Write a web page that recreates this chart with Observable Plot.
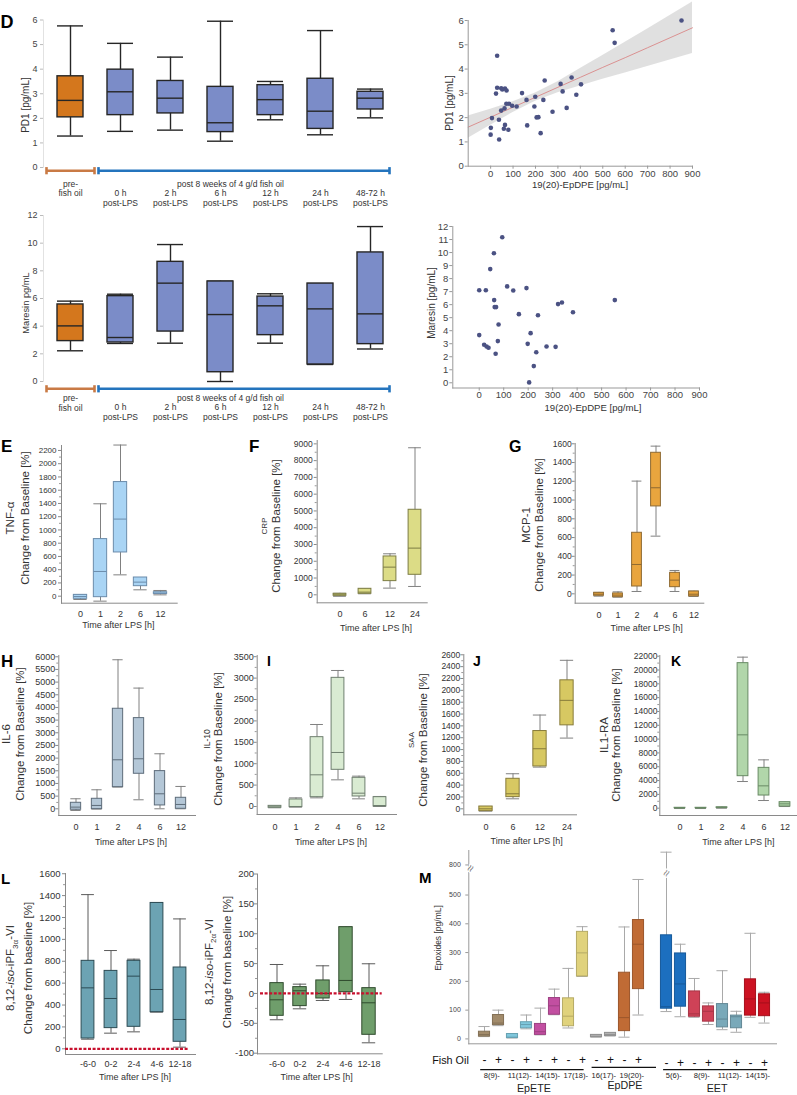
<!DOCTYPE html>
<html><head><meta charset="utf-8">
<script src="https://cdn.jsdelivr.net/npm/d3@7"></script>
<script src="https://cdn.jsdelivr.net/npm/@observablehq/plot@0.6"></script>
<style>
body{margin:0;background:#fff;}
#fig{position:relative;width:797px;height:1095px;overflow:hidden;font-family:"Liberation Sans",Arial,Helvetica,sans-serif;color:#222;background:#fff;}
#fig svg{position:absolute;left:0;top:0;}
.lbl{position:absolute;white-space:nowrap;line-height:1;text-align:center;color:#333;}
.let{position:absolute;font-weight:bold;line-height:1;color:#000;}
</style></head><body><div id="fig"></div>
<script>
// ================= DATA =================
// Panel D box plots
const dCats = ["pre", "0 h", "2 h", "6 h", "12 h", "24 h", "48-72 h"];
const dTickLabels = ["pre-\nfish oil", "0 h\npost-LPS", "2 h\npost-LPS", "6 h\npost-LPS", "12 h\npost-LPS", "24 h\npost-LPS", "48-72 h\npost-LPS"];
const dFills = ["#d4771d", "#7b8cc8", "#7b8cc8", "#7b8cc8", "#7b8cc8", "#7b8cc8", "#7b8cc8"];
const dPeriodNames = ["pre", "post 8 weeks of 4 g/d fish oil"];
const dPeriodFrom = ["pre", "0 h"];
const dPeriodTo = ["pre", "48-72 h"];
const dPeriodColors = ["#c97a45", "#2474bd"];
// stats rows: [min, q1, median, q3, max]
const pd1Stats = [[1.28,2.04,2.73,3.71,5.76],[1.47,2.13,3.08,3.98,5.05],[1.52,2.20,2.82,3.52,4.49],[1.07,1.44,1.82,3.28,5.95],[1.94,2.13,2.76,3.35,3.50],[1.33,1.57,2.29,3.61,5.57],[2.02,2.36,2.82,3.08,3.19]];
const maresinStats = [[2.22,2.92,4.02,5.57,5.81],[2.75,2.82,3.18,6.17,6.31],[2.77,3.61,7.11,8.65,9.90],[0,0.67,4.84,7.23,7.25],[2.77,3.35,5.47,6.14,6.34],[1.23,1.23,5.25,7.08,7.08],[2.35,2.70,4.89,9.33,11.2]];

// Panel D scatter: PD1 vs 19(20)-EpDPE
const pd1EpdpeX = [851,544,553,29,361,241,312,403,29,47,64,52,71,321,24,140,382,199,160,235,70,82,96,116,195,62,339,47,276,213,205,6,37,64,163,1,59,79,223,0,38];
const pd1Y = [6.00,5.60,5.08,4.55,3.65,3.53,3.39,3.37,3.23,3.21,3.20,3.16,3.12,3.08,2.99,3.01,2.94,2.86,2.73,2.73,2.57,2.57,2.49,2.46,2.46,2.38,2.40,2.29,2.24,2.02,2.01,1.98,1.91,1.70,1.68,1.58,1.54,1.50,1.36,1.30,1.10];
// regression line and confidence band
const fitX = [-100,0,100,200,300,400,500,600,700,800,900];
const fitY = [1.61,2.02,2.43,2.84,3.25,3.66,4.07,4.47,4.88,5.29,5.70];
const fitLo = [1.15,1.69,2.21,2.67,3.02,3.30,3.58,3.84,4.11,4.37,4.64];
const fitHi = [2.07,2.35,2.65,3.01,3.48,4.02,4.56,5.10,5.65,6.21,6.76];

// Panel D scatter: Maresin vs 19(20)-EpDPE
const marEpdpeX = [94,60,45,114,0,27,139,193,61,554,338,322,63,69,383,162,240,79,210,0,76,198,20,30,38,275,312,233,67,223,204];
const maresinY = [11.18,9.95,8.73,7.40,7.11,7.11,7.09,7.27,6.35,6.35,6.17,6.04,5.81,5.81,5.42,5.27,5.19,4.48,3.81,3.66,3.20,2.99,2.92,2.79,2.69,2.79,2.76,2.35,2.23,1.28,0.03];

// Panels E-K (change from baseline, %)
const tnfCats = ["0","1","2","6","12"];
const tnfStats = [[-50,-40,-5,20,25],[-75,-15,373,862,1395],[322,660,1164,1723,2282],[96,151,212,282,282],[20,35,45,60,86]];
const crpCats = ["0","6","12","24"];
const crpStats = [[-90,-60,0,60,90],[60,60,159,358,358],[398,815,1650,2286,2445],[497,1193,2783,5070,8767]];
const mcpCats = ["0","1","2","4","6","12"];
const mcpStats = [[-25,-21,-4,11,15],[-36,-36,-14,4,21],[25,78,313,651,1202],[615,932,1131,1504,1575],[25,71,146,224,249],[-28,-28,-4,25,28]];
const il6Cats = ["0","1","2","4","6","12"];
const il6Stats = [[-66,-39,66,237,395],[-13,-13,132,395,750],[855,855,1934,3948,5882],[355,1382,1974,3579,4764],[0,132,592,1487,2171],[0,0,171,434,882]];
const il10Cats = ["0","1","2","4","6","12"];
const il10Stats = [[-30,-30,-8,15,15],[-15,-15,0,164,202],[202,218,740,1620,1916],[623,857,1262,3006,3178],[179,234,311,670,709],[0,0,23,218,234]];
const saaCats = ["0","6","12","24"];
const saaStats = [[-39,-39,0,39,39],[169,197,254,507,592],[704,715,1014,1313,1583],[1194,1409,1831,2169,2507]];
const il1raCats = ["0","1","2","4","6","12"];
const il1raStats = [[-50,0,30,60,80],[-50,0,30,60,80],[0,30,80,130,170],[3861,4633,10617,20993,21862],[1110,1834,3233,5839,6998],[241,241,627,869,869]];

// Panel L (isoprostanes)
const isoCats = ["-6-0","0-2","2-4","4-6","12-18"];
const pf3Stats = [[88,94,557,804,1409],[143,189,460,712,898],[155,201,664,804,819],[335,335,542,1333,1333],[15,64,268,743,1187]];
const pf2Stats = [[-44,-37.4,-10.6,17.3,48.5],[-25.7,-21.2,4.5,10.6,15.6],[-11.7,-8.4,0,21.8,46.3],[-10,2.2,21.8,111,111],[-82.6,-69.2,-15.6,8.9,49.7]];

// Panel M (epoxides, pg/mL)
const mGroups = ["EpETE","EpETE","EpETE","EpETE","EpDPE","EpDPE","EET","EET","EET","EET"];
const mNames = ["8(9)-","11(12)-","14(15)-","17(18)-","16(17)-","19(20)-","5(6)-","8(9)-","11(12)-","14(15)-"];
const mColors = ["#a28b6b","#7fc7dc","#c24fa1","#e0d27c","#b2b2b2","#c06b35","#1c6fbf","#cf4257","#79a9b9","#cc1222"];
const mFishOil = ["-","+"];
const mStats = [
  [8,8,15,25,43],[46,48,55,83,100],
  [3,3,6,17,17],[35,37,50,58,83],
  [14,14,25,52,107],[84,84,115,142,173],
  [38,44,79,141,245],[217,217,299,372,390],
  [6,6,9,14,15],[10,10,15,21,21],
  [6,27,74,230,389],[83,173,329,413,554],
  [95,105,112,360,846],[77,112,191,297,329],
  [75,77,87,165,210],[50,60,96,113,125],
  [32,40,69,121,237],[23,37,77,81,96],
  [75,81,139,207,367],[55,79,125,155,162]
];
const mYTicks = [0,100,200,300,400,500,800];
const mBreakValue = 680;

// ================= HELPERS =================
const W = 797, H = 1095;
const FONT = '"Liberation Sans", Arial, Helvetica, sans-serif';
const fig = document.getElementById("fig");
const baseStyle = {background: "transparent", fontFamily: FONT, overflow: "visible", color: "#333"};
const plain = d => String(d);

function frameOpts(L, T, R, B) {
  return {width: W, height: H, marginLeft: L, marginTop: T, marginRight: W - R, marginBottom: H - B, style: baseStyle};
}
function toRows(cats, stats, extra) {
  return cats.map((c, i) => Object.assign({cat: c, min: stats[i][0], q1: stats[i][1], med: stats[i][2], q3: stats[i][3], max: stats[i][4]}, extra ? extra(i) : {}));
}
function boxMarks(rows, o) {
  const cap = o.capInset ?? o.inset;
  const wsw = o.wsw ?? 1, sw = o.sw ?? 1;
  return [
    Plot.ruleX(rows, {x: "cat", y1: "min", y2: "max", stroke: o.whisker, strokeWidth: wsw}),
    Plot.tickY(rows, {x: "cat", y: "min", stroke: o.whisker, strokeWidth: wsw, insetLeft: cap, insetRight: cap}),
    Plot.tickY(rows, {x: "cat", y: "max", stroke: o.whisker, strokeWidth: wsw, insetLeft: cap, insetRight: cap}),
    Plot.barY(rows, {x: "cat", y1: "q1", y2: "q3", fill: o.fill, stroke: o.stroke, strokeWidth: sw, insetLeft: o.inset, insetRight: o.inset}),
    Plot.tickY(rows, {x: "cat", y: "med", stroke: o.medStroke ?? o.stroke, strokeWidth: sw, insetLeft: o.inset, insetRight: o.inset})
  ];
}
function add(svg) { fig.appendChild(svg); }
const vbar = {draw(ctx, size) { const r = Math.sqrt(size / Math.PI); ctx.moveTo(0, -r); ctx.lineTo(0, r); }};

// ================= PANEL D: box plots =================
function dPanel(p) {
  const rows = toRows(dCats, p.stats, i => ({label: dTickLabels[i], fill: dFills[i]}));
  const step = (p.xr[1] - p.xr[0]) / dCats.length;
  const brackets = dPeriodNames.map((n, i) => ({name: n, from: dPeriodFrom[i], to: dPeriodTo[i], color: dPeriodColors[i]}));
  const bIns = [[1, 1], [3, 6]];
  const bracketMarks = brackets.flatMap((b, i) => [
    Plot.ruleY([b], {x1: "from", x2: "to", y: () => 0, dy: p.bdy, stroke: "color", strokeWidth: 2.6, insetLeft: bIns[i][0], insetRight: bIns[i][1]}),
    Plot.dot([b], {x: "from", y: () => 0, dy: p.bdy, dx: -(step / 2 - bIns[i][0]), symbol: vbar, r: 3.6, fill: "none", stroke: "color", strokeWidth: 2.6}),
    Plot.dot([b], {x: "to", y: () => 0, dy: p.bdy, dx: (step / 2 - bIns[i][1]), symbol: vbar, r: 3.6, fill: "none", stroke: "color", strokeWidth: 2.6})
  ]);
  add(Plot.plot({
    ...frameOpts(43, p.T, 395, p.B),
    x: {type: "band", domain: dCats, range: p.xr, padding: 0, axis: null},
    y: {domain: p.yd, axis: null},
    color: {type: "identity"},
    marks: [
      Plot.frame({anchor: "left", stroke: "#e2e2e2"}),
      Plot.axisY({ticks: p.ticks, tickFormat: plain, tickSize: 3, tickPadding: 3, fontSize: 9, stroke: "#bbb", fill: "#444", label: null}),
      ...boxMarks(rows, {fill: "fill", stroke: "#262626", whisker: "#262626", inset: 12, sw: 1.4, wsw: 1.4}),
      ...bracketMarks,
      Plot.text(rows.slice(0, 1), {x: "cat", text: "label", frameAnchor: "bottom", lineAnchor: "middle", dy: p.preDy, fontSize: 8.5, lineHeight: 1.12, fill: "#333"}),
      Plot.text(rows.slice(1), {x: "cat", text: "label", frameAnchor: "bottom", lineAnchor: "middle", dy: p.postDy, fontSize: 8.5, lineHeight: 1.15, fill: "#333"}),
      Plot.text(brackets.slice(1), {x: () => "6 h", text: "name", dx: 10, frameAnchor: "bottom", lineAnchor: "middle", dy: p.titleDy, fontSize: 8.5, fill: "#333"})
    ]
  }));
}
dPanel({stats: pd1Stats, T: 19.5, B: 167, xr: [45, 395], yd: [0, 6], ticks: d3.range(0, 7), bdy: 3.2, preDy: 21, postDy: 30.7, titleDy: 16.3});
dPanel({stats: maresinStats, T: 215, B: 381, xr: [45, 395], yd: [0, 12], ticks: d3.range(0, 13, 2), bdy: 7.3, preDy: 21.2, postDy: 30.7, titleDy: 16.7});

// ================= PANEL D: scatter plots =================
function scatter(p) {
  add(Plot.plot({
    ...frameOpts(p.L, p.T, p.R, p.B),
    x: {domain: p.xd, axis: null},
    y: {domain: p.yd, axis: null},
    marks: [
      ...(p.band ? [
        Plot.areaY(p.band, {x: "x", y1: "lo", y2: "hi", fill: "#d6d6d6", fillOpacity: 0.75}),
        Plot.lineY(p.band, {x: "x", y: "fit", stroke: "#d98888", strokeWidth: 0.9})
      ] : []),
      Plot.frame({anchor: "left", stroke: "#999"}),
      Plot.frame({anchor: "bottom", stroke: "#999"}),
      Plot.axisY({ticks: p.yticks, tickFormat: plain, tickSize: 3, tickPadding: 1.5, fontSize: 9.5, stroke: "#999", fill: "#444", label: null}),
      Plot.axisX({ticks: d3.range(0, 901, 100), tickFormat: plain, tickSize: 3, tickPadding: p.xpad, fontSize: 9.5, stroke: "#999", fill: "#444", label: null}),
      Plot.dot(p.pts, {x: "x", y: "y", r: 2.3, fill: "#4b5283", stroke: "none"})
    ]
  }));
}
scatter({
  L: 467.7, T: 20, R: 692, B: 165.7, xd: [-100, 900], yd: [0, 6], yticks: d3.range(0, 7), xpad: 1,
  pts: pd1EpdpeX.map((x, i) => ({x, y: pd1Y[i]})),
  band: fitX.map((x, i) => ({x, fit: fitY[i], lo: fitLo[i], hi: fitHi[i]}))
});
scatter({
  L: 452.3, T: 226, R: 699, B: 387.5, xd: [-108, 900], yd: [-0.4, 12], yticks: d3.range(0, 13), xpad: 0.5,
  pts: marEpdpeX.map((x, i) => ({x, y: maresinY[i]}))
});

// ================= PANELS E-L =================
function cytoPanel(p) {
  const rows = toRows(p.cats, p.stats);
  add(Plot.plot({
    ...frameOpts(p.L, p.T, p.R, p.B),
    x: {type: "band", domain: p.cats, range: p.xr, padding: 0, axis: null},
    y: {domain: p.yd, axis: null},
    marks: [
      Plot.frame({anchor: "left", stroke: "#8a8a8a"}),
      Plot.frame({anchor: "bottom", stroke: "#8a8a8a"}),
      Plot.axisY({ticks: p.minor, tickSize: 2, tickFormat: () => "", stroke: "#999", label: null}),
      Plot.axisY({ticks: p.major, tickFormat: plain, tickSize: p.tsize ?? 3, tickPadding: p.pad, fontSize: p.yfs, stroke: "#888", fill: "#333", label: null}),
      Plot.axisX({tickSize: 0, tickPadding: p.xpad, fontSize: 9, fill: "#333", label: null}),
      ...boxMarks(rows, {fill: p.fill, stroke: p.stroke, whisker: p.whisker ?? "#808080", inset: p.inset}),
      ...(p.zero ? [Plot.ruleY([0], {stroke: "#c8102e", strokeWidth: 2.3, strokeDasharray: "3,1.6", insetLeft: p.zero[0], insetRight: p.zero[1]})] : [])
    ]
  }));
}
cytoPanel({cats: tnfCats, stats: tnfStats, L: 61, T: 445, R: 176.7, B: 602.7, xr: [68.5, 170.5], yd: [-106, 2275], major: d3.range(0, 2201, 200), minor: d3.range(100, 2201, 200), pad: 2, yfs: 8, xpad: 7.4, inset: 3.35, fill: "#a9d4f4", stroke: "#6b8cab"});
cytoPanel({cats: crpCats, stats: crpStats, L: 316.7, T: 440, R: 426.7, B: 602.3, xr: [326.4, 427.2], yd: [-477, 9200], major: d3.range(0, 9001, 1000), minor: d3.range(500, 9001, 1000), pad: 1.5, yfs: 8.5, xpad: 7.8, inset: 6.1, fill: "#dcdc86", stroke: "#7c7c44"});
cytoPanel({cats: mcpCats, stats: mcpStats, L: 574.7, T: 443, R: 703.3, B: 602.7, xr: [587.2, 704.5], yd: [-100, 1603], major: d3.range(0, 1601, 200), minor: d3.range(100, 1601, 200), pad: 0.5, yfs: 8.5, xpad: 8.1, inset: 4.6, fill: "#e9a53e", stroke: "#8e6a33"});
cytoPanel({cats: il6Cats, stats: il6Stats, L: 58.3, T: 655, R: 195, B: 815, xr: [64, 192.4], yd: [-265, 6050], major: d3.range(0, 6001, 500), minor: d3.range(250, 6001, 500), pad: 0.5, yfs: 9, xpad: 8.5, inset: 5.35, fill: "#b4c7d7", stroke: "#5d6c7a"});
cytoPanel({cats: il10Cats, stats: il10Stats, L: 256.7, T: 655, R: 396, B: 814, xr: [263, 390.6], yd: [-187, 3528], major: d3.range(0, 3501, 500), minor: d3.range(250, 3501, 500), pad: 0.5, yfs: 9, xpad: 9.5, inset: 4.1, fill: "#d9ebd2", stroke: "#6f7f6f"});
cytoPanel({cats: saaCats, stats: saaStats, L: 463.3, T: 654, R: 576, B: 814.3, xr: [471.5, 579.5], yd: [-101, 2605], major: d3.range(0, 2601, 200), minor: d3.range(100, 2601, 200), pad: 0.5, yfs: 8.5, xpad: 9.2, inset: 6.85, fill: "#d7c862", stroke: "#877b3a"});
cytoPanel({cats: il1raCats, stats: il1raStats, L: 659.3, T: 655, R: 796, B: 815, xr: [668, 795.5], yd: [-1057, 22100], major: d3.range(0, 22001, 2000), minor: d3.range(1000, 22001, 2000), pad: 0.3, tsize: 2, yfs: 8.5, xpad: 8.5, inset: 5.1, fill: "#b1d6aa", stroke: "#688a64"});
cytoPanel({cats: isoCats, stats: pf3Stats, L: 65, T: 873, R: 195, B: 1054, xr: [75.7, 191.9], yd: [-52, 1602], major: d3.range(0, 1601, 200), minor: d3.range(100, 1601, 200), pad: 2, yfs: 9.5, xpad: 6.1, inset: 5.1, fill: "#6ca3b3", stroke: "#2c4b54", whisker: "#5a5a5a", zero: [0, 7]});
cytoPanel({cats: isoCats, stats: pf2Stats, L: 257, T: 873.5, R: 381.7, B: 1053.3, xr: [263.2, 381.2], yd: [-101, 200], major: d3.range(-100, 201, 50), minor: d3.range(-75, 201, 50), pad: 0.5, yfs: 9.5, xpad: 6.8, inset: 4.8, fill: "#6f9e6b", stroke: "#2f4a2d", whisker: "#5a5a5a", zero: [3, 0]});

// ================= PANEL M =================
(function () {
  const slots = [], rows = [];
  mNames.forEach((n, i) => {
    if (i > 0 && mGroups[i] === "EET" && mGroups[i - 1] !== "EET") slots.push("gap");
    mFishOil.forEach((s, j) => {
      const slot = `${mGroups[i]} ${n} ${s}`;
      slots.push(slot);
      const st = mStats[i * 2 + j];
      rows.push({cat: slot, group: mGroups[i], name: n, sign: s, color: mColors[i], dark: d3.color(mColors[i]).darker(0.6).formatHex(), min: st[0], q1: st[1], med: st[2], q3: st[3], max: st[4]});
    });
  });
  const xr = [472.8, 775.5];
  const step = (xr[1] - xr[0]) / slots.length;
  const groups = Array.from(new Set(mGroups));
  const lineIns = {EpETE: [3.2, 5.4], EpDPE: [2.6, -11], EET: [4.1, 3.8]};
  const lineDy = {EpETE: 30.7, EpDPE: 28.4, EET: 30.7};
  const labDy = {EpETE: 50, EpDPE: 46.7, EET: 50};
  const groupMarks = groups.flatMap(g => {
    const gr = rows.filter(r => r.group === g);
    const first = gr[0].cat, last = gr[gr.length - 1].cat;
    const [il, ir] = lineIns[g];
    const n = gr.length;
    const center = (n * step - il - ir) / 2 + il - step / 2;
    return [
      Plot.ruleY([{first, last}], {x1: "first", x2: "last", y: () => 0, dy: lineDy[g], stroke: "#111", strokeWidth: 1.3, insetLeft: il, insetRight: ir}),
      Plot.text([{first, g}], {x: "first", text: "g", dx: center, y: () => 0, dy: labDy[g], lineAnchor: "middle", fontSize: 10.7, fill: "#222"})
    ];
  });
  add(Plot.plot({
    ...frameOpts(468.3, 850, 776, 1043.3),
    x: {type: "band", domain: slots, range: xr, padding: 0, axis: null},
    y: {type: "linear", domain: [-17, 580, 780, 852], range: [1043.3, 871.5, 870, 850], axis: null},
    color: {type: "identity"},
    marks: [
      Plot.frame({anchor: "left", stroke: "#999"}),
      Plot.frame({anchor: "bottom", stroke: "#999"}),
      Plot.axisY({ticks: mYTicks, tickFormat: plain, tickSize: 3, tickPadding: 5, fontSize: 7, stroke: "#999", fill: "#444", label: null}),
      ...boxMarks(rows, {fill: "color", stroke: "dark", medStroke: "dark", whisker: "#a9a9a9", inset: 1.45}),
      Plot.text([mBreakValue], {frameAnchor: "left", y: d => d, text: () => "≈", rotate: -60, fontSize: 12, fill: "#777", stroke: "white", strokeWidth: 2.5, paintOrder: "stroke"}),
      Plot.text(rows.filter(r => r.max > mBreakValue), {x: "cat", y: () => mBreakValue, dy: 2, text: () => "≈", rotate: -60, fontSize: 12, fill: "#888", stroke: "white", strokeWidth: 2.5, paintOrder: "stroke"}),
      Plot.text(["Fish Oil"], {frameAnchor: "bottom-left", lineAnchor: "middle", dx: 0, dy: 16.7, text: d => d, textAnchor: "end", fontSize: 10.8, fill: "#111"}),
      Plot.text(rows.filter(r => r.group !== "EET"), {x: "cat", text: "sign", frameAnchor: "bottom", lineAnchor: "middle", dy: 16.7, fontSize: 12, fill: "#111"}),
      Plot.text(rows.filter(r => r.group === "EET"), {x: "cat", text: "sign", frameAnchor: "bottom", lineAnchor: "middle", dy: 19.4, fontSize: 12, fill: "#111"}),
      Plot.text(rows.filter(r => r.sign === "-"), {x: "cat", text: "name", dx: step / 2, frameAnchor: "bottom", lineAnchor: "middle", dy: 31.7, fontSize: 7.6, fill: "#222"}),
      ...groupMarks
    ]
  }));
})();

// ================= TEXT LABELS =================
function hl(html, cx, cy, fs, extra) {
  const d = document.createElement("div");
  d.className = "lbl";
  d.style.cssText = `left:${cx}px;top:${cy}px;font-size:${fs}px;transform:translate(-50%,-50%);${extra || ""}`;
  d.innerHTML = html;
  fig.appendChild(d);
}
function vl(lines, cx, cy) {
  const html = lines.map(([t, fs, lh]) => `<div style="font-size:${fs}px;line-height:${lh}px">${t}</div>`).join("");
  hl(html, cx, cy, 10, "transform:translate(-50%,-50%) rotate(-90deg);");
}
function letter(ch, x, baseline, fs) {
  const d = document.createElement("div");
  d.className = "let";
  d.style.cssText = `left:${x}px;top:${baseline - 0.8465 * fs}px;font-size:${fs}px;`;
  d.textContent = ch;
  fig.appendChild(d);
}
letter("D", 0.5, 28.3, 18); letter("E", 1, 452, 17); letter("F", 249, 452, 17); letter("G", 509, 452.3, 16);
letter("H", 1, 667.3, 17); letter("I", 267, 665.7, 14); letter("J", 473, 665.7, 14); letter("K", 671, 665.7, 14);
letter("L", 1, 884, 15); letter("M", 419, 882.7, 15);

const CB = "Change from Baseline [%]";
vl([["PD1 [pg/mL]", 10, 12]], 25.7, 105);
vl([["Maresin pg/mL", 9.3, 12]], 25.7, 303);
vl([["PD1 [pg/mL]", 10, 12]], 450, 103);
vl([["Maresin [pg/mL]", 10, 12]], 431.7, 303);
vl([["TNF-α", 11.5, 15], [CB, 11.5, 15]], 17.5, 518);
vl([["CRP", 8, 9], [CB, 11.5, 14]], 271, 526);
vl([["MCP-1", 11.5, 13.3], [CB, 11.5, 13.3]], 532.7, 525);
vl([["IL-6", 11.5, 14], [CB, 11.5, 14]], 13, 734);
vl([["IL-10", 8.5, 9], [CB, 11.5, 13]], 213.8, 739);
vl([["SAA", 8, 9], [CB, 11.5, 14.2]], 418.8, 740);
vl([["IL1-RA", 11.5, 12], [CB, 11.5, 12]], 610, 735);
vl([["8,12-<i>iso</i>-iPF<sub style='font-size:8px'>3α</sub>-VI", 11.5, 13.4], ["Change from baseline [%]", 11.5, 13.4]], 20, 968);
vl([["8,12-<i>iso</i>-iPF<sub style='font-size:8px'>2α</sub>-VI", 11.5, 13.3], ["Change from baseline [%]", 11.5, 13.3]], 218.3, 962);
vl([["Epoxides [pg/mL]", 8.5, 10]], 438.3, 938.3);

const TA = "Time after LPS [h]";
hl("19(20)-EpDPE [pg/mL]", 580, 185, 9.5);
hl("19(20)-EpDPE [pg/mL]", 593, 407.7, 9.6);
hl(TA, 118.3, 625, 9); hl(TA, 376, 628.3, 9); hl(TA, 646.7, 628.3, 9);
hl(TA, 131, 841.7, 9); hl(TA, 331, 841.7, 9); hl(TA, 526.7, 841, 9); hl(TA, 738.3, 841.7, 9);
hl(TA, 135, 1076.7, 9); hl(TA, 316.7, 1076.7, 9);
</script></body></html>
